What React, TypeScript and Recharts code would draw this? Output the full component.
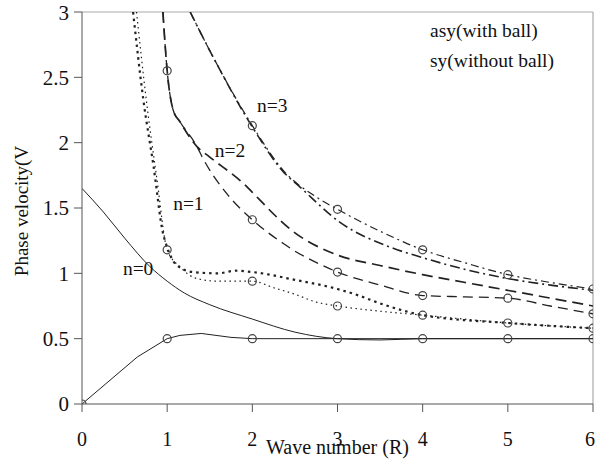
import React from "react";
import {
  LineChart,
  Line,
  XAxis,
  YAxis,
  ReferenceLine,
  ReferenceDot,
} from "recharts";

const FONT = "'Liberation Serif', 'DejaVu Serif', serif";
const FONT_STYLE = { fontFamily: FONT };
const INK = "#222";

const X_TICKS = [0, 1, 2, 3, 4, 5, 6];
const Y_TICKS = [0, 0.5, 1, 1.5, 2, 2.5, 3];

// n = 0
const N0_ASY_X = [0, 0.25, 0.5, 0.8, 1, 1.2, 1.5, 2, 2.5, 3, 3.5, 4, 5, 6];
const N0_ASY_Y = [1.65, 1.47, 1.27, 1.05, 0.94, 0.85, 0.76, 0.65, 0.55, 0.5, 0.49, 0.5, 0.5, 0.5];
const N0_SY_X = [0, 0.65, 1, 1.15, 1.4, 1.75, 2, 3, 4, 5, 6];
const N0_SY_Y = [0, 0.36, 0.5, 0.525, 0.54, 0.51, 0.5, 0.5, 0.5, 0.5, 0.5];

// n = 1
const N1_ASY_X = [0.6, 0.72, 0.84, 0.95, 1, 1.1, 1.3, 1.6, 1.8, 2, 2.5, 3, 3.25, 3.5, 4, 5, 6];
const N1_ASY_Y = [3.0, 2.33, 1.82, 1.31, 1.2, 1.07, 1.01, 1.0, 1.02, 1.01, 0.95, 0.88, 0.83, 0.77, 0.68, 0.62, 0.58];
const N1_SY_X = [0.64, 0.76, 0.88, 1, 1.15, 1.35, 1.6, 2, 2.25, 2.5, 2.75, 3, 3.5, 4, 5, 6];
const N1_SY_Y = [3.0, 2.3, 1.72, 1.18, 1.05, 0.96, 0.94, 0.94, 0.89, 0.84, 0.78, 0.75, 0.71, 0.68, 0.62, 0.58];

// n = 2
const N2_ASY_X = [0.95, 1, 1.07, 1.15, 1.35, 1.5, 1.94, 2, 2.5, 3, 3.5, 4, 4.5, 5, 5.5, 6];
const N2_ASY_Y = [3.0, 2.55, 2.25, 2.16, 1.97, 1.89, 1.66, 1.62, 1.31, 1.14, 1.06, 0.99, 0.93, 0.87, 0.81, 0.75];
const N2_SY_X = [0.95, 1, 1.07, 1.15, 1.35, 1.42, 1.7, 2, 2.36, 2.5, 2.76, 3, 3.5, 4, 4.5, 5, 5.5, 6];
const N2_SY_Y = [3.0, 2.55, 2.25, 2.16, 1.97, 1.88, 1.61, 1.41, 1.23, 1.17, 1.08, 1.01, 0.91, 0.83, 0.82, 0.81, 0.75, 0.69];

// n = 3
const N3_ASY_X = [1.27, 1.56, 2, 2.36, 2.56, 3.03, 3.62, 4, 4.5, 5, 5.5, 6];
const N3_ASY_Y = [3.0, 2.63, 2.12, 1.78, 1.66, 1.39, 1.2, 1.12, 1.03, 0.96, 0.91, 0.87];
const N3_SY_X = [1.27, 1.56, 2, 2.36, 2.76, 3, 3.54, 4, 4.5, 5, 5.5, 6];
const N3_SY_Y = [3.0, 2.63, 2.13, 1.79, 1.58, 1.49, 1.31, 1.18, 1.08, 0.99, 0.93, 0.88];

// in-plot annotations: [text, x, y] in data units (baseline-left)
const NOTES: [string, number, number][] = [
  ["n=0", 0.48, 0.99],
  ["n=1", 1.07, 1.485],
  ["n=2", 1.56, 1.89],
  ["n=3", 2.055, 2.235],
  ["asy(with ball)", 4.086, 2.81],
  ["sy(without ball)", 4.086, 2.58],
];

const pts = (xs: number[], ys: number[]) => xs.map((x, i) => ({ x, y: ys[i] }));

const ring = (props: any) => {
  const { cx, cy, payload, index } = props;
  if (!Number.isInteger(payload.x)) return <g key={`e${index}`} />;
  return (
    <circle
      key={`c${index}`}
      cx={cx}
      cy={cy}
      r={4}
      fill="none"
      stroke="#444"
      strokeWidth={1.2}
    />
  );
};

const noteLabel = (text: string) => (props: any) => {
  const vb = props.viewBox || {};
  return (
    <text x={vb.x} y={vb.y} fill="#111" fontSize={19.5} fontFamily={FONT} style={FONT_STYLE}>
      {text}
    </text>
  );
};

export default function App() {
  const common = { isAnimationActive: false, dataKey: "y", stroke: INK, legendType: "none" as const };
  return (
    <div style={{ position: "absolute", left: 0, top: 0, background: "#fff", fontFamily: FONT }}>
      <LineChart width={595} height={468} margin={{ top: 12, right: 2, bottom: 0, left: 0 }}>
        <XAxis
          type="number"
          dataKey="x"
          domain={[0, 6]}
          ticks={X_TICKS}
          allowDataOverflow
          height={64}
          tickSize={8}
          tickMargin={20}
          stroke="#555"
          tick={{ fill: "#111", fontSize: 20, fontFamily: FONT, style: FONT_STYLE }}
          label={{
            content: (p: any) => {
              const vb = p.viewBox;
              return (
                <text
                  x={vb.x + vb.width / 2}
                  y={vb.y + 50}
                  textAnchor="middle"
                  fill="#111"
                  fontSize={20}
                  fontFamily={FONT}
                  style={FONT_STYLE}
                >
                  Wave number (R)
                </text>
              );
            },
          }}
        />
        <YAxis
          type="number"
          domain={[0, 3]}
          ticks={Y_TICKS}
          allowDataOverflow
          width={82}
          tickSize={8}
          tickMargin={5}
          stroke="#555"
          tick={{ fill: "#111", fontSize: 21, fontFamily: FONT, style: FONT_STYLE }}
          label={{
            content: (p: any) => {
              const vb = p.viewBox;
              return (
                <text
                  transform={`translate(${vb.x + 28}, ${vb.y + vb.height / 2 + 3}) rotate(-90)`}
                  textAnchor="middle"
                  fill="#111"
                  fontSize={19}
                  fontFamily={FONT}
                  style={FONT_STYLE}
                >
                  Phase velocity(V
                </text>
              );
            },
          }}
        />
        <ReferenceLine y={3} stroke="#aaa" strokeWidth={1.2} />
        <ReferenceLine x={6} stroke="#aaa" strokeWidth={1.2} />

        <Line {...common} data={pts(N0_ASY_X, N0_ASY_Y)} type="monotone" strokeWidth={1} dot={false} />
        <Line {...common} data={pts(N0_SY_X, N0_SY_Y)} type="linear" strokeWidth={1} dot={ring} />

        <Line {...common} data={pts(N1_ASY_X, N1_ASY_Y)} type="monotone" strokeWidth={2.2} strokeDasharray="2.5 4" dot={false} />
        <Line {...common} data={pts(N1_SY_X, N1_SY_Y)} type="monotone" strokeWidth={1.2} strokeDasharray="1.5 3.5" dot={ring} />

        <Line {...common} data={pts(N2_ASY_X, N2_ASY_Y)} type="monotone" strokeWidth={1.7} strokeDasharray="11 6" dot={false} />
        <Line {...common} data={pts(N2_SY_X, N2_SY_Y)} type="monotone" strokeWidth={1.3} strokeDasharray="10 6" dot={ring} />

        <Line {...common} data={pts(N3_ASY_X, N3_ASY_Y)} type="monotone" strokeWidth={1.6} strokeDasharray="10 4 2 4" dot={false} />
        <Line {...common} data={pts(N3_SY_X, N3_SY_Y)} type="monotone" strokeWidth={1.2} strokeDasharray="8 4 2 4" dot={ring} />

        {NOTES.map(([text, x, y]) => (
          <ReferenceDot
            key={text}
            x={x}
            y={y}
            r={0}
            fill="none"
            stroke="none"
            label={{ content: noteLabel(text) }}
          />
        ))}
      </LineChart>
    </div>
  );
}
